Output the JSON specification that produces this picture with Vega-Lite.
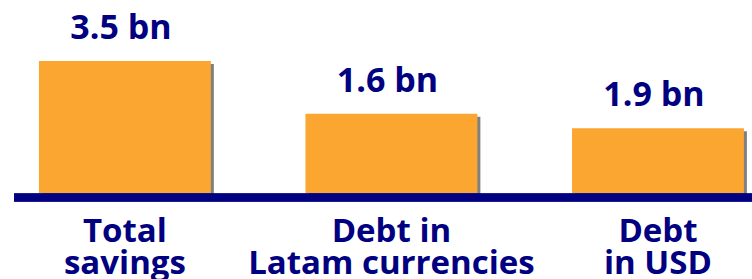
{
  "$schema": "https://vega.github.io/schema/vega-lite/v6.json",
  "width": 738,
  "height": 193,
  "padding": {"left": 10, "top": 0, "right": 0, "bottom": 0},
  "background": "white",
  "config": {"view": {"stroke": null}},
  "data": {
    "values": [
      {"category": "Total\nsavings", "value": 3.5, "label": "3.5 bn"},
      {"category": "Debt in\nLatam currencies", "value": 2.1, "label": "1.6 bn"},
      {"category": "Debt\nin USD", "value": 1.72, "label": "1.9 bn"}
    ]
  },
  "layer": [
    {
      "mark": {"type": "bar", "color": "#808080", "xOffset": 3, "yOffset": 3},
      "encoding": {
        "x": {"field": "category", "type": "nominal", "sort": null,
              "scale": {"paddingInner": 0.355, "paddingOuter": 0.062, "align": 0.755},
              "axis": {"title": null, "domain": false, "ticks": false, "labelAngle": 0,
                       "labelExpr": "split(datum.label, '\\n')", "labelLimit": 0,
                       "labelFont": "Open Sans", "labelFontSize": 33, "labelFontWeight": "bold",
                       "labelColor": "#000080", "labelLineHeight": 32, "labelPadding": 22}},
        "y": {"field": "value", "type": "quantitative", "scale": {"domain": [0, 5.12], "nice": false}, "axis": null}
      }
    },
    {
      "mark": {"type": "bar", "color": "#FBA630"},
      "encoding": {
        "x": {"field": "category", "type": "nominal", "sort": null},
        "y": {"field": "value", "type": "quantitative"}
      }
    },
    {
      "mark": {"type": "rule", "color": "#000080", "strokeWidth": 8, "yOffset": 4.5},
      "encoding": {"y": {"datum": 0, "type": "quantitative"}}
    },
    {
      "mark": {"type": "text", "font": "Open Sans", "fontSize": 34, "fontWeight": "bold",
               "color": "#000080", "baseline": "alphabetic", "dy": -22, "dx": -4},
      "encoding": {
        "x": {"field": "category", "type": "nominal", "sort": null},
        "y": {"field": "value", "type": "quantitative"},
        "text": {"field": "label"}
      }
    }
  ]
}
